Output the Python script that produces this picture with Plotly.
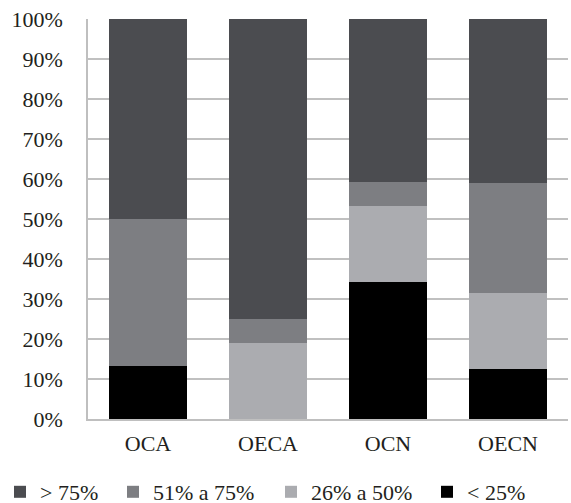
import plotly.graph_objects as go

categories = ["OCA", "OECA", "OCN", "OECN"]
series_names = ["< 25%", "26% a 50%", "51% a 75%", "> 75%"]
lt25 = [13.3, 0, 34.3, 12.6]
p26_50 = [0, 19.1, 18.9, 18.9]
p51_75 = [36.7, 6.0, 6.0, 27.5]
gt75 = [50.0, 74.9, 40.8, 41.0]
colors = ["#000000", "#abacb0", "#7d7e82", "#4b4c50"]
y_ticks = [0, 10, 20, 30, 40, 50, 60, 70, 80, 90, 100]
y_tick_labels = [f"{v}%" for v in y_ticks]

W, H = 571, 503
legend_ids = ["legend4", "legend3", "legend2", "legend"]
legend_x_px = [427, 271, 113, 0]

fig = go.Figure()
for name, vals, col, lg in zip(series_names, [lt25, p26_50, p51_75, gt75], colors, legend_ids):
    fig.add_trace(go.Bar(x=categories, y=vals, name=name, legend=lg,
                         marker=dict(color=col, line=dict(width=0))))

layout_legends = {}
for lg, xp in zip(legend_ids, legend_x_px):
    layout_legends[lg] = dict(orientation="h", x=xp / W, xref="container", xanchor="left",
                              y=11 / H, yref="container", yanchor="middle",
                              font=dict(size=22), itemwidth=30, bgcolor="rgba(0,0,0,0)")

fig.update_layout(
    barmode="stack",
    bargap=0.35,
    width=W, height=H,
    margin=dict(l=88, r=3, t=19, b=83.5, autoexpand=False),
    paper_bgcolor="white", plot_bgcolor="white",
    font=dict(family="Liberation Serif", size=22, color="#231f20"),
    showlegend=True,
    **layout_legends,
)
fig.update_xaxes(showline=True, linecolor="#bfbfbf", linewidth=1.5, ticks="", ticklabelstandoff=4)
fig.update_yaxes(range=[0, 100], tickvals=y_ticks, ticktext=y_tick_labels, showgrid=True,
                 gridcolor="#c0c0c0", gridwidth=1.5, showline=True, linecolor="#bfbfbf",
                 linewidth=1.5, ticks="", ticklabelstandoff=19, zeroline=False)
fig.write_html("out.html", post_script="document.body.style.margin='0px';",
               config={"displayModeBar": False})
